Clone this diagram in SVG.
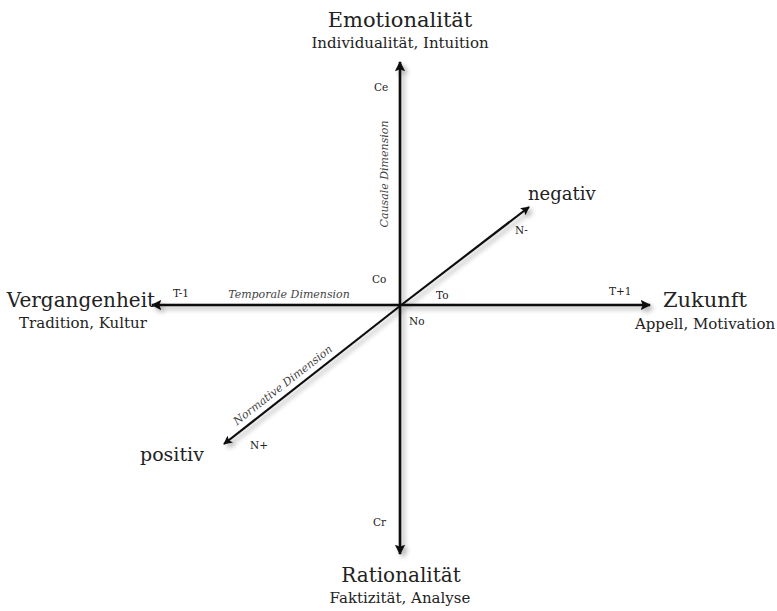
<svg xmlns="http://www.w3.org/2000/svg" width="777" height="611" viewBox="0 0 777 611">
<style>
.t{font-family:"DejaVu Serif","Liberation Serif",serif;fill:#222}
.big{font-size:21px}
.mid{font-size:19px}
.sub{font-size:15px}
.sm{font-size:10.5px}
.it{font-size:11px;font-style:italic;fill:#444}
.ax{stroke:#111;stroke-width:2.6;fill:none}
.ax2{stroke:#111;stroke-width:2.2;fill:none}
</style>
<defs>
<marker id="ah" viewBox="0 0 10 10" refX="9" refY="5" markerWidth="4" markerHeight="4" orient="auto" markerUnits="strokeWidth">
<path d="M0,0 L10,5 L0,10 L2,5 Z" fill="#111"/>
</marker>
<filter id="sh" x="-10%" y="-10%" width="120%" height="120%">
<feGaussianBlur in="SourceAlpha" stdDeviation="2.5"/>
<feOffset dx="3" dy="3" result="b"/>
<feComponentTransfer><feFuncA type="linear" slope="0.35"/></feComponentTransfer>
<feMerge><feMergeNode/><feMergeNode in="SourceGraphic"/></feMerge>
</filter>
</defs>
<rect width="777" height="611" fill="#fff"/>
<g id="connectors" filter="url(#sh)">
<line class="ax" x1="400" y1="305" x2="400" y2="62" marker-end="url(#ah)"/>
<line class="ax" x1="400" y1="305" x2="400" y2="554" marker-end="url(#ah)"/>
<line class="ax" x1="400" y1="305" x2="152" y2="305" marker-end="url(#ah)"/>
<line class="ax" x1="400" y1="305" x2="650" y2="305" marker-end="url(#ah)"/>
<line class="ax2" x1="400" y1="306" x2="529" y2="207" marker-end="url(#ah)"/>
<line class="ax2" x1="400" y1="306" x2="224" y2="444" marker-end="url(#ah)"/>
</g>
<g id="emotionalitaet">
<text class="t big" x="400" y="27" text-anchor="middle">Emotionalität</text>
<text class="t sub" x="400" y="48" text-anchor="middle">Individualität, Intuition</text>
</g>
<g id="rationalitaet">
<text class="t big" x="401" y="582" text-anchor="middle" style="font-size:20px">Rationalität</text>
<text class="t sub" x="400" y="603" text-anchor="middle">Faktizität, Analyse</text>
</g>
<g id="vergangenheit">
<text class="t big" x="81" y="307" text-anchor="middle" style="font-size:20px">Vergangenheit</text>
<text class="t sub" x="83" y="328" text-anchor="middle">Tradition, Kultur</text>
</g>
<g id="zukunft">
<text class="t big" x="705" y="307" text-anchor="middle">Zukunft</text>
<text class="t sub" x="705" y="329" text-anchor="middle">Appell, Motivation</text>
</g>
<g id="negativ">
<text class="t mid" x="528" y="200" style="font-size:18px">negativ</text>
</g>
<g id="positiv">
<text class="t mid" x="140" y="461">positiv</text>
</g>
<g id="labels">
<text class="t sm" x="374" y="91">Ce</text>
<text class="t sm" x="372" y="283">Co</text>
<text class="t sm" x="436" y="299">To</text>
<text class="t sm" x="409" y="325">No</text>
<text class="t sm" x="173" y="297">T-1</text>
<text class="t sm" x="609" y="295">T+1</text>
<text class="t sm" x="515" y="234">N-</text>
<text class="t sm" x="250" y="449">N+</text>
<text class="t sm" x="373" y="526">Cr</text>
<text class="t it" x="289" y="298" text-anchor="middle">Temporale Dimension</text>
<text class="t it" transform="translate(388,174) rotate(-90)" text-anchor="middle">Causale Dimension</text>
<text class="t it" transform="translate(285,388) rotate(-38)" text-anchor="middle">Normative Dimension</text>
</g>
</svg>
